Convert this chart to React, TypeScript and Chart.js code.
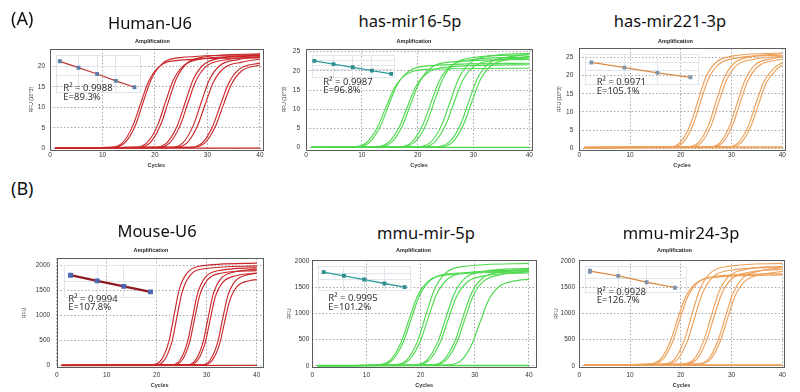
import React, { useEffect, useRef } from "react";
import { Chart, registerables } from "chart.js";

Chart.register(...registerables);

type Pt = [number, number];

const TITLE_FONT = '"Noto Sans", "DejaVu Sans", sans-serif';
const AXIS_FONT = '"Liberation Sans", Arial, sans-serif';

// ---------------- texts ----------------
const rowLabels = ["(A)", "(B)"];
const panelTitles = ["Human-U6", "has-mir16-5p", "has-mir221-3p", "Mouse-U6", "mmu-mir-5p", "mmu-mir24-3p"];
const r2Labels = ["R² = 0.9988", "R² = 0.9987", "R² = 0.9971", "R² = 0.9994", "R² = 0.9995", "R² = 0.9928"];
const effLabels = ["E=89.3%", "E=96.8%", "E=105.1%", "E=107.8%", "E=101.2%", "E=126.7%"];
const yAxisTitles = ["RFU (10^3)", "RFU (10^3)", "RFU (10^3)", "RFU", "RFU", "RFU"];
const plotTitle = "Amplification";
const xAxisTitle = "Cycles";

// ---------------- tick labels ----------------
const cycleTicks = [0, 10, 20, 30, 40];
const rfuTicksA = [0, 5, 10, 15, 20, 25];
const rfuTicksB = [0, 500, 1000, 1500, 2000];

// ---------------- amplification curves [cycle, RFU] ----------------
const humanU6Curves: Pt[][] = [
  [[1, 0.1], [11.3, 0.2], [13.8, 1.3], [15.8, 5.6], [17.3, 11.1], [18.8, 16.4], [20.8, 20.0], [24.3, 21.5], [40, 22.2]],
  [[1, 0.1], [11.8, 0.2], [14.3, 1.4], [16.3, 5.7], [17.8, 11.5], [19.3, 16.9], [21.3, 20.6], [24.8, 22.2], [40, 22.9]],
  [[1, 0.1], [16.0, 0.2], [18.5, 1.4], [20.5, 5.6], [22.0, 11.3], [23.5, 16.7], [25.5, 20.3], [29.0, 21.9], [40, 22.6]],
  [[1, 0.1], [16.6, 0.2], [19.1, 1.4], [21.1, 5.8], [22.6, 11.6], [24.1, 17.1], [26.1, 20.8], [29.6, 22.4], [40, 23.1]],
  [[1, 0.1], [19.8, 0.2], [22.3, 1.4], [24.3, 5.7], [25.8, 11.4], [27.3, 16.9], [29.3, 20.5], [32.8, 22.1], [40, 22.8]],
  [[1, 0.1], [20.3, 0.2], [22.8, 1.3], [24.8, 5.6], [26.3, 11.2], [27.8, 16.5], [29.8, 20.1], [33.3, 21.6], [40, 22.3]],
  [[1, 0.1], [22.8, 0.2], [25.3, 1.3], [27.3, 5.6], [28.8, 11.2], [30.3, 16.6], [32.3, 20.2], [35.8, 21.7], [40, 22.4]],
  [[1, 0.1], [23.6, 0.2], [26.1, 1.3], [28.1, 5.5], [29.6, 10.9], [31.1, 16.1], [33.1, 19.6], [36.6, 21.1], [40, 21.8]],
  [[1, 0.1], [26.5, 0.2], [29.0, 1.3], [31.0, 5.4], [32.5, 10.7], [34.0, 15.8], [36.0, 19.3], [40, 20.9]],
  [[1, 0.1], [27.0, 0.2], [29.5, 1.3], [31.5, 5.3], [33.0, 10.5], [34.5, 15.5], [36.5, 18.9], [40, 20.4]],
  [[1, 0], [40, 0.05]],
];

const mir16Curves: Pt[][] = [
  [[1, 0.1], [8.3, 0.2], [10.8, 1.3], [12.8, 5.3], [14.3, 10.5], [15.8, 15.5], [17.8, 18.9], [21.3, 20.4], [40, 20.7]],
  [[1, 0.1], [8.8, 0.2], [11.3, 1.3], [13.3, 5.5], [14.8, 11.0], [16.3, 16.3], [18.3, 19.8], [21.8, 21.3], [40, 22.0]],
  [[1, 0.1], [12.2, 0.2], [14.7, 1.3], [16.7, 5.4], [18.2, 10.8], [19.7, 16.0], [21.7, 19.4], [25.2, 21.0], [40, 21.6]],
  [[1, 0.1], [12.8, 0.2], [15.3, 1.4], [17.3, 5.8], [18.8, 11.5], [20.3, 17.0], [22.3, 20.7], [25.8, 22.3], [40, 23.0]],
  [[1, 0.1], [16.4, 0.2], [18.9, 1.4], [20.9, 5.9], [22.4, 11.8], [23.9, 17.5], [25.9, 21.2], [29.4, 22.9], [40, 23.6]],
  [[1, 0.1], [17.0, 0.2], [19.5, 1.5], [21.5, 6.0], [23.0, 12.1], [24.5, 17.9], [26.5, 21.8], [30.0, 23.5], [40, 24.2]],
  [[1, 0.1], [19.9, 0.2], [22.4, 1.5], [24.4, 6.2], [25.9, 12.3], [27.4, 18.2], [29.4, 22.1], [32.9, 23.9], [40, 24.6]],
  [[1, 0.1], [20.5, 0.2], [23.0, 1.4], [25.0, 5.9], [26.5, 11.7], [28.0, 17.3], [30.0, 21.1], [33.5, 22.7], [40, 23.4]],
  [[1, 0.1], [23.2, 0.2], [25.7, 1.5], [27.7, 6.1], [29.2, 12.2], [30.7, 18.0], [32.7, 21.9], [36.2, 23.6], [40, 24.3]],
  [[1, 0.1], [23.7, 0.2], [26.2, 1.4], [28.2, 6.0], [29.7, 11.9], [31.2, 17.6], [33.2, 21.4], [36.7, 23.1], [40, 23.8]],
  [[1, 0.1], [40, 0.1]],
];

const mir221Curves: Pt[][] = [
  [[1, 0.2], [17.4, 0.3], [19.9, 1.6], [21.9, 6.6], [23.4, 13.1], [24.9, 19.4], [26.9, 23.6], [30.4, 25.4], [40, 26.2]],
  [[1, 0.2], [17.9, 0.3], [20.4, 1.5], [22.4, 6.4], [23.9, 12.8], [25.4, 18.9], [27.4, 23.0], [30.9, 24.8], [40, 25.6]],
  [[1, 0.2], [21.0, 0.3], [23.5, 1.6], [25.5, 6.5], [27.0, 13.0], [28.5, 19.2], [30.5, 23.4], [34.0, 25.2], [40, 26.0]],
  [[1, 0.2], [21.5, 0.3], [24.0, 1.5], [26.0, 6.3], [27.5, 12.7], [29.0, 18.7], [31.0, 22.8], [34.5, 24.5], [40, 25.3]],
  [[1, 0.2], [25.2, 0.3], [27.7, 1.5], [29.7, 6.4], [31.2, 12.8], [32.7, 18.9], [34.7, 23.0], [38.2, 24.7], [40, 25.1]],
  [[1, 0.2], [25.7, 0.3], [28.2, 1.5], [30.2, 6.3], [31.7, 12.5], [33.2, 18.5], [35.2, 22.5], [38.7, 24.2], [40, 24.5]],
  [[1, 0.2], [28.8, 0.3], [31.3, 1.5], [33.3, 6.1], [34.8, 12.3], [36.3, 18.1], [38.3, 22.0], [40, 23.6]],
  [[1, 0.2], [29.3, 0.3], [31.8, 1.4], [33.8, 6.0], [35.3, 12.0], [36.8, 17.8], [38.8, 21.6], [40, 22.9]],
  [[1, 0.4], [40, 0.4]],
  [[1, 0.1], [40, 0.15]],
];

const mouseU6Curves: Pt[][] = [
  [[1, 5], [19.0, 15], [21.0, 125], [22.5, 510], [23.5, 1025], [24.5, 1520], [26.0, 1845], [28.5, 1990], [40, 2050]],
  [[1, 5], [19.6, 15], [21.6, 120], [23.1, 500], [24.1, 1000], [25.1, 1475], [26.6, 1795], [29.1, 1935], [40, 1995]],
  [[1, 5], [22.7, 15], [24.7, 118], [26.2, 490], [27.2, 980], [28.2, 1450], [29.7, 1765], [32.2, 1900], [40, 1960]],
  [[1, 5], [23.1, 15], [25.1, 114], [26.6, 475], [27.6, 950], [28.6, 1405], [30.1, 1710], [32.6, 1845], [40, 1900]],
  [[1, 5], [25.8, 15], [27.8, 116], [29.3, 482], [30.3, 965], [31.3, 1430], [32.8, 1737], [35.3, 1870], [40, 1930]],
  [[1, 5], [26.2, 15], [28.2, 111], [29.7, 462], [30.7, 925], [31.7, 1370], [33.2, 1665], [35.7, 1795], [40, 1850]],
  [[1, 5], [28.7, 15], [30.7, 113], [32.2, 470], [33.2, 940], [34.2, 1390], [35.7, 1690], [38.2, 1820], [40, 1850]],
  [[1, 5], [29.1, 15], [31.1, 105], [32.6, 440], [33.6, 880], [34.6, 1300], [36.1, 1585], [38.6, 1700], [40, 1720]],
  [[1, 0], [40, 5]],
];

const mmu5pCurves: Pt[][] = [
  [[1, 0], [11.9, 18], [14.4, 107], [16.4, 448], [17.9, 895], [19.4, 1325], [21.4, 1611], [24.9, 1736], [40, 1790]],
  [[1, 0], [12.3, 18], [14.8, 109], [16.8, 453], [18.3, 905], [19.8, 1340], [21.8, 1630], [25.3, 1755], [40, 1810]],
  [[1, 0], [15.0, 20], [17.5, 117], [19.5, 489], [21.0, 978], [22.5, 1447], [24.5, 1760], [28.0, 1896], [40, 1955]],
  [[1, 0], [15.4, 18], [17.9, 110], [19.9, 458], [21.4, 915], [22.9, 1354], [24.9, 1647], [28.4, 1775], [40, 1830]],
  [[1, 0], [18.7, 19], [21.2, 112], [23.2, 465], [24.7, 930], [26.2, 1376], [28.2, 1674], [31.7, 1804], [40, 1860]],
  [[1, 0], [19.1, 18], [21.6, 107], [23.6, 444], [25.1, 888], [26.6, 1314], [28.6, 1598], [32.1, 1722], [40, 1775]],
  [[1, 0], [21.8, 18], [24.3, 111], [26.3, 461], [27.8, 923], [29.3, 1365], [31.3, 1661], [34.8, 1790], [40, 1845]],
  [[1, 0], [22.2, 18], [24.7, 108], [26.7, 450], [28.2, 900], [29.7, 1332], [31.7, 1620], [35.2, 1746], [40, 1800]],
  [[1, 0], [25.0, 17], [27.5, 101], [29.5, 420], [31.0, 840], [32.5, 1243], [34.5, 1512], [38.0, 1630], [40, 1650]],
  [[1, 0], [40, 0]],
  [[1, 8], [40, 8]],
];

const mmu24Curves: Pt[][] = [
  [[1, 15], [13.3, 30], [15.8, 104], [17.8, 434], [19.3, 868], [20.8, 1284], [22.8, 1562], [26.3, 1683], [40, 1735]],
  [[1, 15], [13.8, 30], [16.3, 106], [18.3, 440], [19.8, 880], [21.3, 1302], [23.3, 1584], [26.8, 1707], [40, 1760]],
  [[1, 15], [16.2, 32], [18.7, 117], [20.7, 489], [22.2, 978], [23.7, 1447], [25.7, 1760], [29.2, 1896], [40, 1955]],
  [[1, 15], [16.8, 31], [19.3, 113], [21.3, 470], [22.8, 940], [24.3, 1391], [26.3, 1692], [29.8, 1824], [40, 1880]],
  [[1, 15], [20.0, 31], [22.5, 114], [24.5, 475], [26.0, 950], [27.5, 1406], [29.5, 1710], [33.0, 1843], [40, 1900]],
  [[1, 15], [20.5, 30], [23.0, 110], [25.0, 460], [26.5, 920], [28.0, 1362], [30.0, 1656], [33.5, 1785], [40, 1840]],
  [[1, 15], [22.8, 31], [25.3, 112], [27.3, 468], [28.8, 935], [30.3, 1384], [32.3, 1683], [35.8, 1814], [40, 1870]],
  [[1, 15], [23.2, 30], [25.7, 108], [27.7, 450], [29.2, 900], [30.7, 1332], [32.7, 1620], [36.2, 1746], [40, 1800]],
  [[1, 15], [40, 15]],
  [[1, 5], [40, 8]],
];

// ---------------- standard curves (log quantity vs Cq) ----------------
const humanU6StdLogQ = [1, 2, 3, 4, 5];
const humanU6StdCq = [32.8, 29.2, 25.7, 21.9, 18.3];
const mir16StdLogQ = [1, 2, 3, 4, 5];
const mir16StdCq = [29.5, 26.1, 22.7, 19.1, 15.7];
const mir221StdLogQ = [1, 2, 3, 4];
const mir221StdCq = [35.0, 31.6, 28.2, 25.3];
const mouseU6StdLogQ = [1, 2, 3, 4];
const mouseU6StdCq = [33.4, 30.2, 27.1, 24.0];
const mmu5pStdLogQ = [1, 2, 3, 4, 5];
const mmu5pStdCq = [31.0, 27.8, 24.6, 21.2, 18.1];
const mmu24StdLogQ = [1, 2, 3, 4];
const mmu24StdCq = [29.0, 26.5, 23.1, 20.2];
const mmu24ReplicateLogQ = [1, 1];
const mmu24ReplicateCq = [29.4, 28.5];

// ---------------- styling / layout ----------------
const RED = "#c9282b";
const GREEN = "#4fd94f";
const ORANGE = "#eda05a";

type Rect = { l: number; t: number; r: number; b: number };
type Inset = {
  x: number[]; y: number[]; rx?: number[]; ry?: number[];
  box: { l: number; t: number; w: number; h: number };
  xMin: number; xMax: number; yMin: number; yMax: number;
  lineColor: string; lineWidth: number; marker: string;
};
type Panel = {
  idx: number; curves: Pt[][]; color: string; yTicks: number[];
  yMin: number; yMax: number; xMax: number;
  area: Rect; canvas: Rect; yTitleX: number; xTitleY: number; xTickPad: number; yTickPad: number;
  titlePos: [number, number]; ampPos: [number, number]; r2Pos: [number, number, number];
  inset: Inset;
};

const panels: Panel[] = [
  {
    idx: 0, curves: humanU6Curves, color: RED, yTicks: rfuTicksA, yMin: -0.5, yMax: 24.3, xMax: 40.5,
    area: { l: 50, t: 49, r: 262.6, b: 150.3 }, canvas: { l: 18, t: 37, r: 272, b: 170 },
    yTitleX: 32, xTitleY: 165, xTickPad: 1.5, yTickPad: 5,
    titlePos: [150, 22.5], ampPos: [152.5, 42.3], r2Pos: [63.3, 88, 97],
    inset: { x: humanU6StdLogQ, y: humanU6StdCq, box: { l: 51, t: 50, w: 95, h: 48 }, xMin: 0.81, xMax: 5.333, yMin: 15.26, yMax: 36.14, lineColor: "#c03a3a", lineWidth: 1.3, marker: "#5d7ea6" },
  },
  {
    idx: 1, curves: mir16Curves, color: GREEN, yTicks: rfuTicksA, yMin: -0.6, yMax: 25.7, xMax: 40.5,
    area: { l: 306, t: 49, r: 532.1, b: 150 }, canvas: { l: 274, t: 37, r: 542, b: 170 },
    yTitleX: 285, xTitleY: 165, xTickPad: 1.5, yTickPad: 6,
    titlePos: [410, 21], ampPos: [414, 42.3], r2Pos: [323.3, 82, 90.3],
    inset: { x: mir16StdLogQ, y: mir16StdCq, box: { l: 307, t: 50, w: 93, h: 33 }, xMin: 0.894, xMax: 5.184, yMin: 11.56, yMax: 35.53, lineColor: "#2f9e9e", lineWidth: 1.3, marker: "#2f8f8f" },
  },
  {
    idx: 2, curves: mir221Curves, color: ORANGE, yTicks: rfuTicksA, yMin: -0.5, yMax: 27.5, xMax: 40.5,
    area: { l: 579.3, t: 48.3, r: 784.8, b: 150.1 }, canvas: { l: 547, t: 36, r: 795, b: 170 },
    yTitleX: 560, xTitleY: 165, xTickPad: 1.5, yTickPad: 6,
    titlePos: [670, 21], ampPos: [675.5, 42], r2Pos: [596.7, 81.7, 90.7],
    inset: { x: mir221StdLogQ, y: mir221StdCq, box: { l: 580, t: 49, w: 124, h: 41 }, xMin: 0.814, xMax: 4.249, yMin: 20.45, yMax: 40.34, lineColor: "#d98a40", lineWidth: 1.3, marker: "#7f95ad" },
  },
  {
    idx: 3, curves: mouseU6Curves, color: RED, yTicks: rfuTicksB, yMin: -33, yMax: 2148, xMax: 41.2,
    area: { l: 56.7, t: 258.3, r: 262.7, b: 367.3 }, canvas: { l: 18, t: 246, r: 272, b: 392 },
    yTitleX: 25, xTitleY: 385.7, xTickPad: 4.5, yTickPad: 6.5,
    titlePos: [157, 230.5], ampPos: [151, 251], r2Pos: [68.3, 298.5, 306.7],
    inset: { x: mouseU6StdLogQ, y: mouseU6StdCq, box: { l: 58, t: 259, w: 105, h: 45 }, xMin: 0.769, xMax: 4.23, yMin: 20.77, yMax: 38.92, lineColor: "#8e1b1f", lineWidth: 2.4, marker: "#4a66b0" },
  },
  {
    idx: 4, curves: mmu5pCurves, color: GREEN, yTicks: rfuTicksB, yMin: -30, yMax: 2019, xMax: 41.3,
    area: { l: 312.3, t: 260, r: 536, b: 367.3 }, canvas: { l: 274, t: 248, r: 546, b: 392 },
    yTitleX: 290, xTitleY: 385.7, xTickPad: 4.5, yTickPad: 3,
    titlePos: [426, 232.5], ampPos: [413.5, 251], r2Pos: [328.3, 298.3, 306.7],
    inset: { x: mmu5pStdLogQ, y: mmu5pStdCq, box: { l: 313, t: 261, w: 103, h: 35 }, xMin: 0.734, xMax: 5.297, yMin: 15.02, yMax: 35.94, lineColor: "#2f9e9e", lineWidth: 1.3, marker: "#2f8f8f" },
  },
  {
    idx: 5, curves: mmu24Curves, color: ORANGE, yTicks: rfuTicksB, yMin: -30, yMax: 2019, xMax: 40.3,
    area: { l: 579.3, t: 260, r: 783.8, b: 367.3 }, canvas: { l: 541, t: 248, r: 794, b: 392 },
    yTitleX: 556.7, xTitleY: 385.7, xTickPad: 4.5, yTickPad: 4.3,
    titlePos: [681, 232.5], ampPos: [674.5, 251], r2Pos: [596.7, 291.7, 300],
    inset: { x: mmu24StdLogQ, y: mmu24StdCq, rx: mmu24ReplicateLogQ, ry: mmu24ReplicateCq, box: { l: 580, t: 261, w: 112, h: 37 }, xMin: 0.84, xMax: 4.415, yMin: 17.56, yMax: 31.53, lineColor: "#d98a40", lineWidth: 1.3, marker: "#7f95ad" },
  },
];

const boxPlugin = {
  id: "plotBox",
  afterDatasetsDraw(chart: any) {
    const { ctx, chartArea: a } = chart;
    ctx.save();
    ctx.strokeStyle = "#5c5c5c";
    ctx.lineWidth = 1;
    ctx.setLineDash([]);
    const l = Math.round(a.left) + 0.5;
    const t = Math.round(a.top) + 0.5;
    ctx.strokeRect(l, t, Math.round(a.right) - Math.round(a.left), Math.round(a.bottom) - Math.round(a.top));
    ctx.restore();
  },
};

const plainLabel = (v: any) => String(v);

function mainConfig(p: Panel): any {
  const yW = p.area.l - p.canvas.l;
  const padTop = p.area.t - p.canvas.t;
  const padRight = p.canvas.r - p.area.r;
  const xH = p.canvas.b - p.area.b;
  const yTicks = p.yTicks.filter((v) => v <= p.yMax);
  return {
    type: "line",
    data: {
      datasets: p.curves.map((c) => ({
        data: c.map(([x, y]) => ({ x, y })),
        borderColor: p.color,
        borderWidth: 1.15,
        pointRadius: 0,
        fill: false,
        cubicInterpolationMode: "monotone",
      })),
    },
    options: {
      animation: false,
      responsive: false,
      maintainAspectRatio: false,
      events: [],
      layout: { padding: { left: 0, top: padTop, right: padRight, bottom: 0 } },
      plugins: { legend: { display: false }, tooltip: { enabled: false }, title: { display: false } },
      scales: {
        x: {
          type: "linear",
          min: 0,
          max: p.xMax,
          afterBuildTicks: (s: any) => { s.ticks = cycleTicks.map((v) => ({ value: v })); },
          afterFit: (s: any) => { s.height = xH; },
          ticks: { font: { size: 6.5, family: AXIS_FONT }, color: "#333", padding: p.xTickPad, maxRotation: 0, autoSkip: false, callback: plainLabel },
          grid: { color: "#8f8f8f", lineWidth: 0.8, drawTicks: false },
          border: { display: false, dash: [1.5, 2] },
          title: {
            display: true, text: xAxisTitle, color: "#333",
            font: { size: 5.5, weight: "bold", family: AXIS_FONT },
            padding: { top: 0, bottom: p.canvas.b - p.xTitleY - 3.3 },
          },
        },
        y: {
          type: "linear",
          min: p.yMin,
          max: p.yMax,
          afterBuildTicks: (s: any) => { s.ticks = yTicks.map((v) => ({ value: v })); },
          afterFit: (s: any) => { s.width = yW; },
          ticks: { font: { size: 6.5, family: AXIS_FONT }, color: "#333", padding: p.yTickPad, autoSkip: false, callback: plainLabel },
          grid: { color: "#8f8f8f", lineWidth: 0.8, drawTicks: false },
          border: { display: false, dash: [1.5, 2] },
          title: {
            display: true, text: yAxisTitles[p.idx], color: "#333",
            font: { size: 5, family: AXIS_FONT },
            padding: { top: p.yTitleX - p.canvas.l - 3, bottom: 0 },
          },
        },
      },
    },
    plugins: [boxPlugin],
  };
}

function insetConfig(p: Panel): any {
  const s = p.inset;
  const datasets: any[] = [
    {
      data: s.x.map((x, i) => ({ x, y: s.y[i] })),
      borderColor: s.lineColor,
      borderWidth: s.lineWidth,
      pointRadius: 1.8,
      pointStyle: "rect",
      pointBackgroundColor: s.marker,
      pointBorderColor: s.marker,
      tension: 0,
      clip: false,
    },
  ];
  if (s.rx && s.ry) {
    datasets.push({
      data: s.rx.map((x, i) => ({ x, y: s.ry![i] })),
      showLine: false,
      pointRadius: 1.8,
      pointStyle: "rect",
      pointBackgroundColor: s.marker,
      pointBorderColor: s.marker,
      clip: false,
    });
  }
  return {
    type: "line",
    data: { datasets },
    options: {
      animation: false,
      responsive: false,
      maintainAspectRatio: false,
      events: [],
      layout: { padding: 0 },
      plugins: { legend: { display: false }, tooltip: { enabled: false } },
      scales: {
        x: {
          type: "linear", min: s.xMin, max: s.xMax,
          ticks: { display: false, stepSize: 1 },
          grid: { color: "#e0e5ec", lineWidth: 1, drawTicks: false },
          border: { display: false },
        },
        y: {
          type: "linear", min: s.yMin, max: s.yMax,
          ticks: { display: false, stepSize: 5 },
          grid: { color: "#e0e5ec", lineWidth: 1, drawTicks: false },
          border: { display: false },
        },
      },
    },
  };
}

const textBase: React.CSSProperties = { position: "absolute", whiteSpace: "nowrap", lineHeight: 1 };

export default function App() {
  const mainRefs = useRef<(HTMLCanvasElement | null)[]>([]);
  const insetRefs = useRef<(HTMLCanvasElement | null)[]>([]);

  useEffect(() => {
    const charts: Chart[] = [];
    panels.forEach((p, i) => {
      const c = mainRefs.current[i];
      if (c) charts.push(new Chart(c, mainConfig(p)));
      const ic = insetRefs.current[i];
      if (ic) charts.push(new Chart(ic, insetConfig(p)));
    });
    return () => charts.forEach((ch) => ch.destroy());
  }, []);

  return (
    <div style={{ position: "absolute", left: 0, top: 0, width: 800, height: 392, background: "#fff", overflow: "hidden" }}>
      {panels.map((p, i) => {
        const w = p.canvas.r - p.canvas.l;
        const h = p.canvas.b - p.canvas.t;
        const b = p.inset.box;
        return (
          <React.Fragment key={"c" + i}>
            <canvas
              ref={(el) => { mainRefs.current[i] = el; }}
              width={w}
              height={h}
              style={{ position: "absolute", left: p.canvas.l, top: p.canvas.t, width: w, height: h }}
            />
            <canvas
              ref={(el) => { insetRefs.current[i] = el; }}
              width={b.w}
              height={b.h}
              style={{ position: "absolute", left: b.l, top: b.t, width: b.w, height: b.h }}
            />
          </React.Fragment>
        );
      })}
      <div style={{ ...textBase, left: 11, top: 18, transform: "translateY(-50%)", fontSize: 18, fontFamily: TITLE_FONT, color: "#111" }}>{rowLabels[0]}</div>
      <div style={{ ...textBase, left: 11, top: 188, transform: "translateY(-50%)", fontSize: 18, fontFamily: TITLE_FONT, color: "#111" }}>{rowLabels[1]}</div>
      {panels.map((p, i) => (
        <React.Fragment key={"t" + i}>
          <div style={{ ...textBase, left: p.titlePos[0], top: p.titlePos[1], transform: "translate(-50%,-50%)", fontSize: 16.5, fontFamily: TITLE_FONT, color: "#111" }}>
            {panelTitles[i]}
          </div>
          <div style={{ ...textBase, left: p.ampPos[0], top: p.ampPos[1], transform: "translate(-50%,-50%)", fontSize: 5.5, fontWeight: "bold", fontFamily: AXIS_FONT, color: "#222" }}>
            {plotTitle}
          </div>
          <div style={{ ...textBase, left: p.r2Pos[0], top: p.r2Pos[1], transform: "translateY(-50%)", fontSize: 9.5, fontFamily: TITLE_FONT, color: "#333" }}>
            {r2Labels[i]}
          </div>
          <div style={{ ...textBase, left: p.r2Pos[0], top: p.r2Pos[2], transform: "translateY(-50%)", fontSize: 9.5, fontFamily: TITLE_FONT, color: "#333" }}>
            {effLabels[i]}
          </div>
        </React.Fragment>
      ))}
    </div>
  );
}
